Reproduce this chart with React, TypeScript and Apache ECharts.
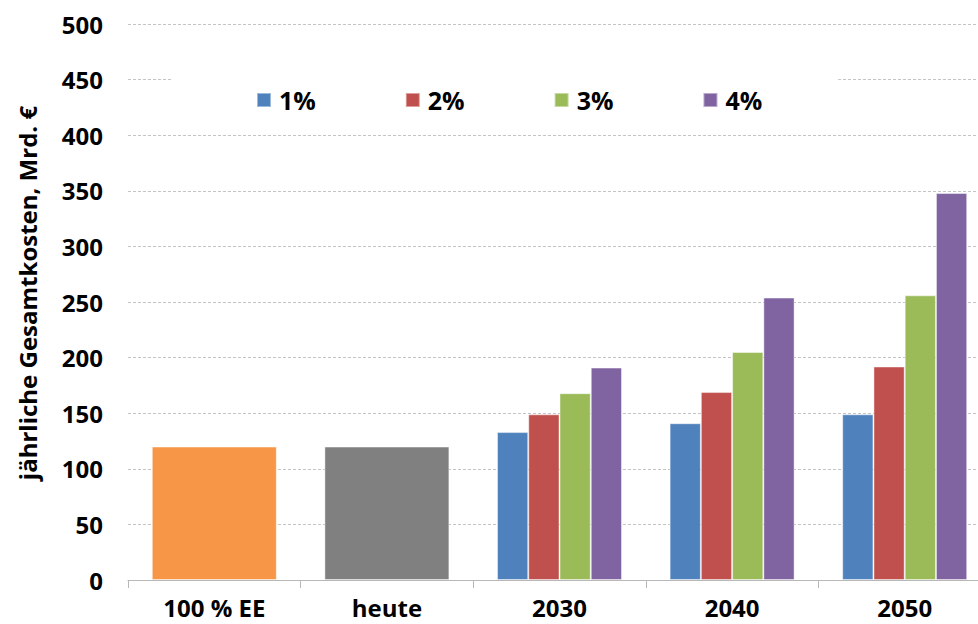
import React, { useEffect, useRef } from "react";
import * as echarts from "echarts";

const categories = ["100 % EE", "heute", "2030", "2040", "2050"];
const baseValues = [120, 120, null, null, null];
const baseColors = ["#F79646", "#808080"];
const seriesNames = ["1%", "2%", "3%", "4%"];
const seriesColors = ["#4F81BD", "#C0504D", "#9BBB59", "#8064A2"];
const p1 = [null, null, 133, 141, 149];
const p2 = [null, null, 149, 169, 192];
const p3 = [null, null, 168, 205, 256];
const p4 = [null, null, 191, 254, 348];
const yMin = 0;
const yMax = 500;
const yStep = 50;
const yTitle = "jährliche Gesamtkosten, Mrd. €";

const FONT = "'Open Sans', 'Noto Sans', sans-serif";

export default function App() {
  const ref = useRef<HTMLDivElement>(null);
  useEffect(() => {
    if (!ref.current) return;
    const chart = echarts.init(ref.current, null, { renderer: "svg" });
    const pData = [p1, p2, p3, p4];
    const option = {
      animation: false,
      backgroundColor: "#ffffff",
      grid: { left: 128, right: 0, top: 24, bottom: 44, containLabel: false },
      legend: {
        data: seriesNames,
        left: 172,
        top: 76,
        padding: [10, 76, 10, 84],
        backgroundColor: "#ffffff",
        itemGap: 89,
        itemWidth: 14,
        itemHeight: 14,
        icon: "rect",
        textStyle: {
          fontFamily: FONT,
          fontWeight: "bold",
          fontSize: 25,
          color: "#000",
          lineHeight: 28,
          padding: [0, 0, 0, 3],
        },
      },
      xAxis: [
        {
          type: "category",
          data: categories,
          axisLine: { show: true, lineStyle: { color: "#b8b8b8", width: 1 } },
          axisTick: { show: true, length: 8, lineStyle: { color: "#b8b8b8" } },
          axisLabel: {
            fontFamily: FONT,
            fontWeight: "bold",
            fontSize: 24,
            lineHeight: 24,
            color: "#000",
            margin: 15,
          },
        },
        {
          type: "category",
          data: categories,
          show: false,
        },
      ],
      yAxis: {
        type: "value",
        min: yMin,
        max: yMax,
        interval: yStep,
        axisLine: { show: false },
        axisTick: { show: false },
        axisLabel: {
          fontFamily: FONT,
          fontWeight: "bold",
          fontSize: 24,
          color: "#000",
          margin: 25,
        },
        splitLine: { lineStyle: { color: "#c4c4c4", type: [3, 2], width: 1 } },
      },
      graphic: [
        {
          type: "text",
          x: 27,
          y: 293,
          rotation: Math.PI / 2,
          style: {
            text: yTitle,
            fontFamily: FONT,
            fontWeight: "bold",
            fontSize: 24,
            fill: "#000",
            align: "center",
            verticalAlign: "middle",
          },
        },
      ],
      series: [
        ...seriesNames.map((name, i) => ({
          name,
          type: "bar",
          xAxisIndex: 0,
          barWidth: 31.25,
          barGap: "0%",
          data: pData[i],
          itemStyle: {
            color: seriesColors[i],
            borderColor: "rgba(255,255,255,0.45)",
            borderWidth: 1,
          },
        })),
        {
          name: "base",
          type: "bar",
          xAxisIndex: 1,
          barWidth: 125,
          data: baseValues.map((v, i) =>
            v == null
              ? null
              : {
                  value: v,
                  itemStyle: {
                    color: baseColors[i],
                    borderColor: "rgba(255,255,255,0.45)",
                    borderWidth: 1,
                  },
                }
          ),
        },
      ],
    };
    chart.setOption(option as any);
    return () => chart.dispose();
  }, []);
  return (
    <div
      style={{
        position: "fixed",
        left: 0,
        top: 0,
        width: 978,
        height: 624,
        overflow: "hidden",
        background: "#fff",
      }}
    >
      <div ref={ref} style={{ width: 991, height: 624 }} />
    </div>
  );
}
